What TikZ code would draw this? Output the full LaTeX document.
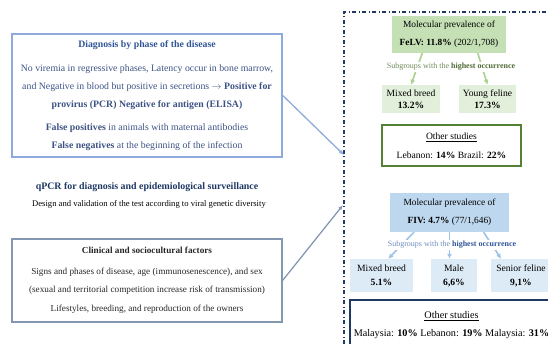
\documentclass[tikz,border=0pt]{standalone}
\usepackage{fontspec}
\setmainfont{Liberation Serif}
\usetikzlibrary{arrows.meta}

\definecolor{navyline}{HTML}{1F3864}
\definecolor{diagline}{HTML}{8FAADC}
\definecolor{diagtext}{HTML}{3C5285}
\definecolor{diagtitle}{HTML}{2F5597}
\definecolor{clinline}{HTML}{8497B0}
\definecolor{felvfill}{HTML}{C5E0B4}
\definecolor{felvsubfill}{HTML}{E2EFDA}
\definecolor{felvarrowc}{HTML}{A9D18E}
\definecolor{felvframe}{HTML}{548235}
\definecolor{felvlabel}{HTML}{6E8B5A}
\definecolor{felvlabelb}{HTML}{4E6B35}
\definecolor{fivfill}{HTML}{BDD7EE}
\definecolor{fivsubfill}{HTML}{DDEBF7}
\definecolor{fivarrowc}{HTML}{9DC3E6}
\definecolor{fivlabel}{HTML}{6F8FBF}

\begin{document}
\begin{tikzpicture}[x=1pt, y=-1pt,
    box/.style={rectangle, inner sep=0pt, align=center},
    sepline/.style={navyline, line width=1.3pt, dash pattern=on 4pt off 2.5pt on 1pt off 2.5pt},
    felvarrow/.style={felvarrowc, line width=1.6pt, -{Latex[length=5pt,width=5pt]}},
    fivarrow/.style={fivarrowc, line width=1.6pt, -{Latex[length=5pt,width=5pt]}}]
    \useasboundingbox (0,0) rectangle (548,344);

    % left column
    \node[box, draw=diagline, line width=1.5pt, minimum width=270pt, minimum height=123pt,
          text=diagtext, font=\fontsize{9.8}{18}\selectfont] (diag) at (147,95.5)
        {\textcolor{diagtitle}{\textbf{Diagnosis by phase of the disease}}\\[6pt]
         No viremia in regressive phases, Latency occur in bone marrow,\\
         and Negative in blood but positive in secretions $\rightarrow$ \textbf{Positive for}\\
         \textbf{provirus (PCR) Negative for antigen (ELISA)}\\[5pt]
         \textbf{False positives} in animals with maternal antibodies\\
         \textbf{False negatives} at the beginning of the infection};

    \node[text=navyline, font=\fontsize{9.9}{11}\selectfont\bfseries] (qpcr) at (147,187)
        {qPCR for diagnosis and epidemiological surveillance};
    \node[font=\fontsize{8.6}{10}\selectfont] (design) at (149,204)
        {Design and validation of the test according to viral genetic diversity};

    \node[box, draw=clinline, line width=1.2pt, minimum width=270pt, minimum height=83pt,
          text=black!85, font=\fontsize{9.2}{18}\selectfont] (clin) at (147,280.5)
        {\textbf{Clinical and sociocultural factors}\\[3pt]
         Signs and phases of disease, age (immunosenescence), and sex\\
         (sexual and territorial competition increase risk of transmission)\\[1pt]
         Lifestyles, breeding, and reproduction of the owners};

    % separator
    \coordinate (septop) at (344,12);
    \coordinate (sepbot) at (344,344);
    \coordinate (sepright) at (548,12);
    \coordinate (sepin1) at (344,155);
    \coordinate (sepin2) at (343,205);
    \draw[sepline] (sepbot) -- (septop) -- (sepright);

    \draw[diagline, line width=1.3pt, -{Latex[length=5pt,width=4pt]}] (diag.east) -- (sepin1);
    \draw[clinline, line width=1.3pt, -{Latex[length=5pt,width=4pt]}] (clin.east) -- (sepin2);

    % FeLV
    \node[box, fill=felvfill, minimum width=114pt, minimum height=37pt,
          font=\fontsize{9.4}{18}\selectfont] (felv) at (449,34.5)
        {Molecular prevalence of\\ \textbf{FeLV: 11.8\%} (202/1,708)};
    \node[box, fill=felvsubfill, minimum width=58pt, minimum height=28pt,
          font=\fontsize{9.6}{12.5}\selectfont] (felvmix) at (411,99)
        {Mixed breed\\ \textbf{13.2\%}};
    \node[box, fill=felvsubfill, minimum width=57pt, minimum height=28pt,
          font=\fontsize{9.6}{12.5}\selectfont] (felvyoung) at (487.5,99)
        {Young feline\\ \textbf{17.3\%}};

    \draw[felvarrow] (felv.215) -- (felvmix.north);
    \draw[felvarrow] (felv.327) -- (felvyoung.north);

    \node[fill=white, inner sep=1pt, text=felvlabel, font=\fontsize{8}{9}\selectfont] (felvsub) at (451,67)
        {Subgroups with the \textcolor{felvlabelb}{\textbf{highest occurrence}}};

    \node[box, draw=felvframe, line width=1.2pt, fill=white, minimum width=139pt, minimum height=41pt,
          font=\fontsize{9.6}{19}\selectfont] (felvother) at (451.5,145.5)
        {\underline{Other studies}\\ Lebanon: \textbf{14\%} Brazil: \textbf{22\%}};

    % FIV
    \node[box, fill=fivfill, minimum width=119pt, minimum height=39pt,
          font=\fontsize{9.4}{18}\selectfont] (fiv) at (449.5,212.5)
        {Molecular prevalence of\\ \textbf{FIV: 4.7\%} (77/1,646)};
    \node[box, fill=fivsubfill, minimum width=63pt, minimum height=33pt,
          font=\fontsize{9.6}{14}\selectfont] (fivmix) at (381.5,275.5)
        {Mixed breed\\ \textbf{5.1\%}};
    \node[box, fill=fivsubfill, minimum width=46pt, minimum height=33pt,
          font=\fontsize{9.6}{14}\selectfont] (fivmale) at (454,275.5)
        {Male\\ \textbf{6,6\%}};
    \node[box, fill=fivsubfill, minimum width=60pt, minimum height=33pt,
          font=\fontsize{9.6}{14}\selectfont] (fivsenior) at (521,275.5)
        {Senior feline\\ \textbf{9,1\%}};

    \draw[fivarrow] (fiv.209) -- (fivmix.68);
    \draw[fivarrow] (fiv.south) -- (fiv.south |- fivmale.north);
    \draw[fivarrow] (fiv.330) -- (fivsenior.140);

    \node[fill=white, inner sep=1pt, text=fivlabel, font=\fontsize{8}{9}\selectfont] (fivsub) at (452,245)
        {Subgroups with the \textcolor{diagtitle}{\textbf{highest occurrence}}};

    \node[box, draw=navyline, line width=1.2pt, fill=white, minimum width=203pt, minimum height=50pt,
          font=\fontsize{10.2}{18}\selectfont] (fivother) at (451.5,325)
        {\underline{Other studies}\\ Malaysia: \textbf{10\%} Lebanon: \textbf{19\%} Malaysia: \textbf{31\%}};
\end{tikzpicture}
\end{document}
